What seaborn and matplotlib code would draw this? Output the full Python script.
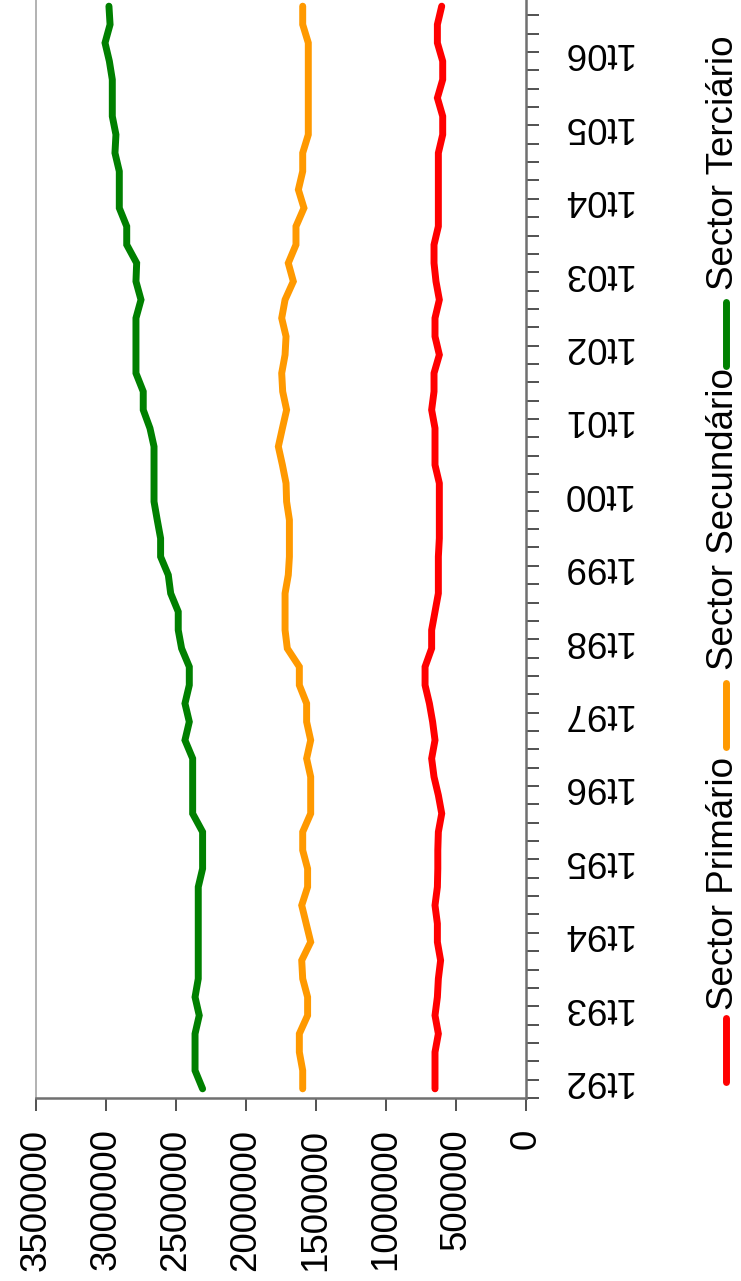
import numpy as np
import pandas as pd
import matplotlib
matplotlib.use("Agg")
import matplotlib.pyplot as plt
import matplotlib.transforms as mtransforms
from matplotlib.lines import Line2D
import seaborn as sns

# Quarterly employment by sector, 1st quarter 1992 to 4th quarter 2006
years = ["92", "93", "94", "95", "96", "97", "98", "99", "00", "01", "02", "03", "04", "05", "06"]
quarters = [f"{q}t{y}" for y in years for q in (1, 2, 3, 4)]
year_labels = ["1t92", "1t93", "1t94", "1t95", "1t96", "1t97", "1t98", "1t99",
               "1t00", "1t01", "1t02", "1t03", "1t04", "1t05", "1t06"]

primario = [650000, 650000, 650000, 626000, 650000, 633000, 626000, 610000, 633000, 633000,
            650000, 633000, 630000, 630000, 626000, 602000, 626000, 657000, 674000, 650000,
            667000, 690000, 721000, 721000, 674000, 674000, 650000, 626000, 626000, 626000,
            619000, 619000, 619000, 619000, 650000, 650000, 650000, 674000, 657000, 657000,
            619000, 650000, 650000, 619000, 643000, 657000, 657000, 626000, 626000, 626000,
            626000, 626000, 595000, 595000, 633000, 595000, 595000, 633000, 633000, 602000]

secundario = [1595000, 1595000, 1619000, 1619000, 1560000, 1560000, 1595000, 1602000, 1538000, 1570000,
              1602000, 1560000, 1560000, 1595000, 1595000, 1538000, 1538000, 1538000, 1567000, 1538000,
              1567000, 1567000, 1619000, 1619000, 1705000, 1721000, 1721000, 1721000, 1698000, 1690000,
              1690000, 1690000, 1710000, 1714000, 1740000, 1769000, 1740000, 1710000, 1738000, 1745000,
              1721000, 1714000, 1745000, 1721000, 1662000, 1698000, 1643000, 1643000, 1586000, 1626000,
              1595000, 1595000, 1555000, 1555000, 1555000, 1555000, 1555000, 1555000, 1595000, 1595000]

terciario = [2310000, 2364000, 2364000, 2364000, 2334000, 2364000, 2341000, 2341000, 2341000, 2341000,
             2341000, 2341000, 2310000, 2310000, 2310000, 2381000, 2381000, 2381000, 2381000, 2436000,
             2405000, 2436000, 2405000, 2405000, 2460000, 2484000, 2484000, 2538000, 2555000, 2610000,
             2610000, 2634000, 2657000, 2657000, 2657000, 2657000, 2686000, 2734000, 2734000, 2786000,
             2786000, 2786000, 2786000, 2750000, 2786000, 2781000, 2852000, 2852000, 2905000, 2905000,
             2905000, 2936000, 2929000, 2955000, 2955000, 2955000, 2976000, 3007000, 2971000, 2979000]

sectors = ["Sector Primário", "Sector Secundário", "Sector Terciário"]
colors = ["#FF0000", "#FF9900", "#008000"]
value_ticks = [0, 500000, 1000000, 1500000, 2000000, 2500000, 3000000, 3500000]

pos = np.arange(len(quarters))
df = pd.concat([
    pd.DataFrame({"pos": pos, "Trimestre": quarters, "Valor": vals, "Sector": name})
    for name, vals in zip(sectors, [primario, secundario, terciario])
], ignore_index=True)

sns.set_theme(style="white")
plt.rcParams["font.family"] = ["Liberation Sans", "DejaVu Sans"]

W, H = 741, 1281
fig = plt.figure(figsize=(W / 100, H / 100), dpi=100)
fs = 26.5

# plot area in pixel terms: left 36, right 526, top -3, bottom 1098
left, right, top, bottom = 36, 526, -3, 1098
ax = fig.add_axes([left / W, 1 - bottom / H, (right - left) / W, (bottom - top) / H])

sns.lineplot(data=df, x="Valor", y="pos", hue="Sector", palette=colors, hue_order=sectors,
             orient="y", sort=False, estimator=None, linewidth=5.0, legend=False, ax=ax,
             solid_capstyle="round", solid_joinstyle="miter")

ax.set_xlim(3500000, 0)
ax.set_ylim(-0.5, len(quarters) - 0.5)
ax.set_xlabel("")
ax.set_ylabel("")

# value axis along the bottom, labels reading upwards
ax.set_xticks(value_ticks)
ax.set_xticklabels([str(v) for v in value_ticks], rotation=90, fontsize=fs)
ax.tick_params(axis="x", direction="out", length=9, width=1.2, color="#333333",
               pad=13, labelcolor="black", bottom=True)

# category axis along the right side
ax.yaxis.tick_right()
ax.set_yticks(np.arange(-0.5, len(quarters), 1))
ax.set_yticklabels([])
ax.set_yticks(np.arange(0, len(quarters), 4), minor=True)
ax.set_yticklabels(year_labels, minor=True, rotation=180, fontsize=fs, va="center")
ax.tick_params(axis="y", which="major", direction="out", length=9, width=1.2,
               color="#333333", right=True, left=False)
ax.tick_params(axis="y", which="minor", length=0, pad=25, labelcolor="black",
               right=True, left=False)
# the upside-down labels carry their descender space on top; nudge them up
nudge = mtransforms.ScaledTranslation(0, 6 / 72, fig.dpi_scale_trans)
for lab in ax.get_yticklabels(minor=True):
    lab.set_transform(lab.get_transform() + nudge)

ax.spines["top"].set_visible(False)
ax.spines["left"].set_color("#a6a6a6")
ax.spines["left"].set_linewidth(1.2)
for side in ["right", "bottom"]:
    ax.spines[side].set_color("#707070")
    ax.spines[side].set_linewidth(1.8)
ax.grid(False)

# legend, laid out along the right edge and reading upwards
legend_items = [
    (sectors[0], colors[0], (1082, 1018), 1010),
    (sectors[1], colors[1], (747, 683), 670),
    (sectors[2], colors[2], (366, 302), 290),
]
x_line, x_base = 726, 733
for label, col, (y0, y1), ytxt in legend_items:
    fig.add_artist(Line2D([x_line / W, x_line / W], [1 - y0 / H, 1 - y1 / H],
                          color=col, linewidth=5.0, solid_capstyle="round",
                          transform=fig.transFigure))
    fig.text(x_base / W, 1 - ytxt / H, label, rotation=90, rotation_mode="anchor",
             ha="left", va="baseline", fontsize=fs, color="black")

fig.savefig("out.png", dpi=100, facecolor="white")
